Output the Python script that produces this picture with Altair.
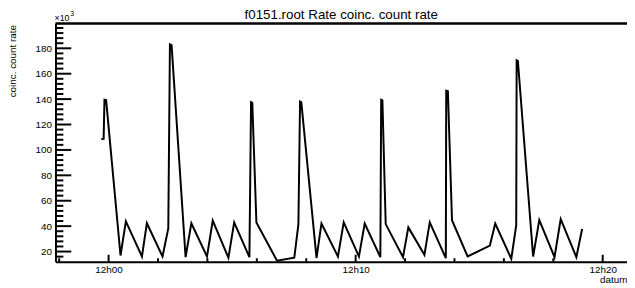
import altair as alt
import pandas as pd

DAY = "2020-01-01T"

# sample times (hh:mm:ss) and coincidence count rate (x10^3)
times = [
    "11:59:42", "11:59:48", "11:59:50", "11:59:54", "12:00:29", "12:00:42",
    "12:01:21", "12:01:33", "12:02:11", "12:02:25", "12:02:29", "12:02:33",
    "12:03:07", "12:03:21", "12:03:59", "12:04:13", "12:04:51", "12:05:05",
    "12:05:42", "12:05:46", "12:05:49", "12:05:59", "12:06:49", "12:07:31",
    "12:07:41", "12:07:45", "12:07:48", "12:08:25", "12:08:37", "12:09:17",
    "12:09:31", "12:10:08", "12:10:22", "12:11:00", "12:11:02", "12:11:05",
    "12:11:13", "12:11:55", "12:12:08", "12:12:47", "12:13:00", "12:13:39",
    "12:13:40", "12:13:44", "12:13:54", "12:14:32", "12:15:26", "12:15:39",
    "12:16:18", "12:16:30", "12:16:31", "12:16:34", "12:17:11", "12:17:26",
    "12:18:03", "12:18:18", "12:18:56", "12:19:10",
]
rates = [
    108.5, 108.7, 139.5, 139.2, 16.9, 43.7,
    16.1, 42.3, 16.1, 38.2, 183.1, 182.5,
    15.6, 42.3, 16.1, 44.4, 15.1, 42.9,
    15.6, 137.6, 137.1, 42.9, 12.8, 15.1,
    41.6, 138.1, 137.6, 14.9, 42.1, 16.1,
    42.9, 16.1, 42.1, 15.6, 139.5, 139.0,
    41.6, 15.6, 39.0, 17.4, 42.9, 14.8,
    146.7, 146.2, 44.7, 16.1, 24.7, 42.1,
    14.3, 40.8, 170.6, 170.0, 16.1, 44.7,
    15.6, 45.5, 15.6, 37.7,
]

x_major = ["12:00:00", "12:10:00", "12:20:00"]
x_minor = ["11:58:00", "12:02:00", "12:04:00", "12:06:00", "12:08:00",
           "12:12:00", "12:14:00", "12:16:00", "12:18:00"]
y_major = [20, 40, 60, 80, 100, 120, 140, 160, 180]
y_minor = [v for v in range(16, 200, 4) if v % 20 != 0]

TITLE = "f0151.root Rate coinc. count rate"

W, H = 578, 241
FONT = "Liberation Sans"

df = pd.DataFrame({"t": [DAY + s for s in times], "r": rates})
dfxM = pd.DataFrame({"t": [DAY + s for s in x_major]})
dfxm = pd.DataFrame({"t": [DAY + s for s in x_minor]})
dfyM = pd.DataFrame({"v": y_major})
dfym = pd.DataFrame({"v": y_minor})
one = pd.DataFrame({"a": [0]})


def dt(h, m, s=0):
    return alt.DateTime(year=2020, month=1, date=1, hours=h, minutes=m, seconds=s)


xscale = alt.Scale(domain=[dt(11, 57, 51), dt(12, 20, 59)])
yscale = alt.Scale(domain=[12, 199.6], nice=False, zero=False)

xaxis = alt.Axis(values=[dt(12, 0), dt(12, 10), dt(12, 20)], format="%Hh%M",
                 formatType="time", tickSize=0, labelPadding=3, grid=False,
                 labelOverlap=False,
                 domainColor="black", domainWidth=2, labelColor="black",
                 labelFont=FONT, labelFontSize=10,
                 titleFont=FONT, titleFontSize=10, titleFontWeight="normal",
                 titleColor="black", titleAnchor="end", titleAlign="right",
                 titleX=W, titleY=18, titleBaseline="middle")
yaxis = alt.Axis(values=y_major, tickSize=0, labelPadding=4, grid=False,
                 labelOverlap=False,
                 domainColor="black", domainWidth=2, labelColor="black",
                 labelFont=FONT, labelFontSize=10,
                 titleFont=FONT, titleFontSize=10, titleFontWeight="normal",
                 titleColor="black", titleAngle=270, titleAlign="right",
                 titleBaseline="middle", titleX=-43, titleY=1)


def X(field):
    return alt.X(field, type="temporal", scale=xscale, title="datum", axis=xaxis)


def Y(field):
    return alt.Y(field, type="quantitative", scale=yscale, title="coinc. count rate", axis=yaxis)


line = alt.Chart(df).mark_line(color="black", strokeWidth=2, clip=True).encode(
    x=X("t"), y=Y("r"))

xM = alt.Chart(dfxM).mark_rule(color="black", strokeWidth=2).encode(
    x=X("t"), y=alt.value(H), y2=alt.value(H - 7))
xm = alt.Chart(dfxm).mark_rule(color="black", strokeWidth=2).encode(
    x=X("t"), y=alt.value(H), y2=alt.value(H - 3.5))
yM = alt.Chart(dfyM).mark_rule(color="black", strokeWidth=2).encode(
    y=Y("v"), x=alt.value(0), x2=alt.value(16))
ym = alt.Chart(dfym).mark_rule(color="black", strokeWidth=2).encode(
    y=Y("v"), x=alt.value(0), x2=alt.value(8))

top = alt.Chart(one).mark_rule(color="black", strokeWidth=2.5).encode(
    x=alt.value(0), x2=alt.value(W), y=alt.value(0))

exp_base = alt.Chart(one).mark_text(
    text="×10", font=FONT, fontSize=9, color="black", align="left", baseline="alphabetic"
).encode(x=alt.value(-1), y=alt.value(-2))
exp_sup = alt.Chart(one).mark_text(
    text="3", font=FONT, fontSize=7, color="black", align="left", baseline="alphabetic"
).encode(x=alt.value(15), y=alt.value(-7))

title = alt.Chart(one).mark_text(
    text=TITLE, font=FONT, fontSize=13.5, color="black", align="center", baseline="alphabetic"
).encode(x=alt.value(W / 2), y=alt.value(-4))

chart = alt.layer(line, xM, xm, yM, ym, top, exp_base, exp_sup, title).properties(
    width=W, height=H,
    autosize=alt.AutoSizeParams(type="none"),
    padding={"left": 48, "top": 14, "right": 0, "bottom": 24},
).configure_view(strokeWidth=0).configure(background="white")

chart.save("out.html", embed_options={"renderer": "svg", "actions": False})
